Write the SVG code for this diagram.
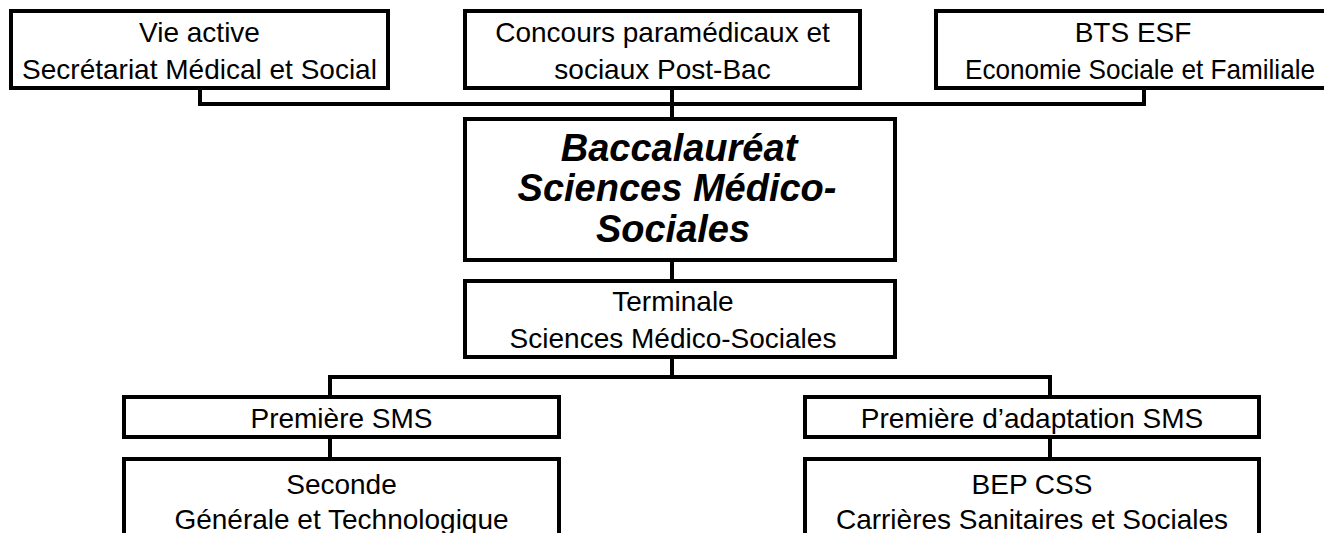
<svg xmlns="http://www.w3.org/2000/svg" width="1324" height="533" viewBox="0 0 1324 533">
  <style>
    .box { fill: #ffffff; stroke: #000000; stroke-width: 4; }
    .conn { fill: none; stroke: #000000; stroke-width: 4; stroke-linejoin: miter; stroke-linecap: butt; }
    .t { font-family: "Liberation Sans", Arial, sans-serif; font-size: 28px; fill: #000000; text-anchor: middle; }
    .tb { font-family: "Liberation Sans", Arial, sans-serif; font-size: 38px; font-weight: bold; font-style: italic; fill: #000000; text-anchor: middle; }
  </style>
  <rect width="1324" height="533" fill="#ffffff"/>

  <g id="connectors">
    <path class="conn" d="M200,88 V104 H1144 V88"/>
    <path class="conn" d="M672,88 V119"/>
    <path class="conn" d="M672,260 V281"/>
    <path class="conn" d="M672,357 V377"/>
    <path class="conn" d="M330,397 V377 H1050 V397"/>
    <path class="conn" d="M330,437 V459"/>
    <path class="conn" d="M1050,437 V459"/>
  </g>

  <g id="vie-active">
    <rect class="box" x="11" y="11" width="377" height="77"/>
    <text class="t" x="199.5" y="42">Vie active</text>
    <text class="t" x="199.5" y="79">Secrétariat Médical et Social</text>
  </g>

  <g id="concours">
    <rect class="box" x="465" y="11" width="395" height="77"/>
    <text class="t" x="662.5" y="42">Concours paramédicaux et</text>
    <text class="t" x="662.5" y="79">sociaux Post-Bac</text>
  </g>

  <g id="bts-esf">
    <rect class="box" x="936" y="11" width="416" height="77"/>
    <text class="t" x="1133" y="42">BTS ESF</text>
    <text class="t" x="1140" y="79" textLength="350" lengthAdjust="spacingAndGlyphs">Economie Sociale et Familiale</text>
  </g>

  <g id="baccalaureat">
    <rect class="box" x="465" y="119" width="430" height="141"/>
    <text class="tb" x="679" y="161">Baccalauréat</text>
    <text class="tb" x="677" y="201">Sciences Médico-</text>
    <text class="tb" x="673" y="242">Sociales</text>
  </g>

  <g id="terminale">
    <rect class="box" x="465" y="281" width="430" height="76"/>
    <text class="t" x="673" y="311">Terminale</text>
    <text class="t" x="673" y="348">Sciences Médico-Sociales</text>
  </g>

  <g id="premiere-sms">
    <rect class="box" x="124" y="397" width="435" height="40"/>
    <text class="t" x="341.5" y="428">Première SMS</text>
  </g>

  <g id="premiere-adaptation">
    <rect class="box" x="805" y="397" width="454" height="40"/>
    <text class="t" x="1032" y="428">Première d’adaptation SMS</text>
  </g>

  <g id="seconde">
    <rect class="box" x="124" y="459" width="435" height="120"/>
    <text class="t" x="341.5" y="494">Seconde</text>
    <text class="t" x="341.5" y="529">Générale et Technologique</text>
  </g>

  <g id="bep-css">
    <rect class="box" x="805" y="459" width="454" height="120"/>
    <text class="t" x="1032" y="494">BEP CSS</text>
    <text class="t" x="1032" y="529">Carrières Sanitaires et Sociales</text>
  </g>
</svg>
